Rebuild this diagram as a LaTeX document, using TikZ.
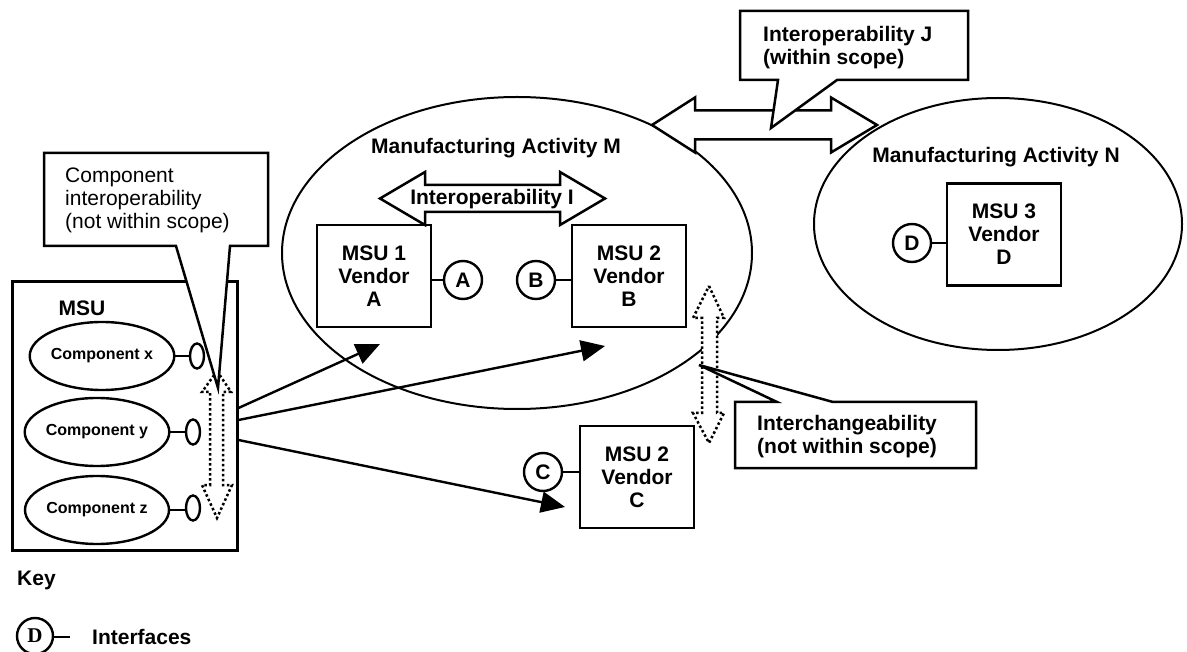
\documentclass[tikz,border=0pt]{standalone}
\usepackage{fontspec}
\setmainfont{Liberation Sans}
\newfontfamily\keyfont{Liberation Serif}
\usetikzlibrary{arrows.meta,shapes.geometric}
\begin{document}
\begin{tikzpicture}[x=1pt,y=-1pt,
  boldtext/.style={font=\fontsize{21}{23}\selectfont\bfseries},
  regulartext/.style={font=\fontsize{21}{23}\selectfont},
  comptext/.style={font=\fontsize{16}{18}\selectfont\bfseries},
  activity/.style={ellipse, draw, line width=2pt, inner sep=0pt},
  msubox/.style={draw, line width=2.8pt, minimum width=114pt, minimum height=102pt, inner sep=0pt, align=center, boldtext},
  iface/.style={circle, draw, line width=2.4pt, minimum size=38pt, inner sep=0pt, boldtext},
  component/.style={ellipse, draw, line width=2.4pt, minimum width=144pt, minimum height=68pt, inner sep=0pt, comptext},
  portshape/.style={ellipse, draw, line width=2.4pt, minimum width=14pt, minimum height=25pt, inner sep=0pt},
  blockarrow/.style={draw, fill=white, line width=2.5pt, line join=miter},
  dottedarrow/.style={draw, fill=white, line width=2.5pt, dash pattern=on 2.5pt off 2.5pt, line join=miter},
  calloutbox/.style={draw, fill=white, line width=2.5pt, line join=miter},
  conn/.style={line width=2.4pt, -{Triangle[length=24pt,width=21pt]}},
  wire/.style={line width=2.4pt}
]
\useasboundingbox (0,0) rectangle (1187,652);

% manufacturing activities
\node[activity, minimum width=470pt, minimum height=312pt] (actM) at (517,253) {};
\node[activity, minimum width=368pt, minimum height=252pt] (actN) at (998,224) {};
\node[boldtext] (titleM) at (496,148) {Manufacturing Activity M};
\node[boldtext] (titleN) at (996,157) {Manufacturing Activity N};

% interoperability J between the activities
\draw[blockarrow] (652,125) -- (695,97.5) -- (695,110.5) -- (831,110.5) -- (831,97.5)
  -- (877,125) -- (831,152.5) -- (831,139.5) -- (695,139.5) -- (695,152.5) -- cycle;
\draw[calloutbox] (740,11) -- (968,11) -- (968,80) -- (837,80) -- (771,128) -- (778,80) -- (740,80) -- cycle;
\node[boldtext, anchor=west, align=left, inner sep=0pt] (labelJ) at (763,48)
  {Interoperability J\\(within scope)};

% interoperability I inside activity M
\draw[blockarrow] (380,198.5) -- (425,172) -- (425,185) -- (560,185) -- (560,172)
  -- (605,198.5) -- (560,225) -- (560,212) -- (425,212) -- (425,225) -- cycle;
\node[boldtext, inner sep=0pt] (labelI) at (492,199) {Interoperability I};

% manufacturing software units
\node[msubox] (msu1) at (374,276) {MSU 1\\Vendor\\A};
\node[msubox] (msu2) at (629,276) {MSU 2\\Vendor\\B};
\node[msubox] (msu2c) at (637,477) {MSU 2\\Vendor\\C};
\node[msubox] (msu3) at (1004,234.5) {MSU 3\\Vendor\\D};

\node[iface] (ifA) at (463,280) {A};
\node[iface] (ifB) at (536,280) {B};
\node[iface] (ifC) at (543,472) {C};
\node[iface] (ifD) at (912,243) {D};
\draw[wire] (ifA.west) -- (ifA.west -| msu1.east);
\draw[wire] (ifB.east) -- (ifB.east -| msu2.west);
\draw[wire] (ifC.east) -- (ifC.east -| msu2c.west);
\draw[wire] (ifD.east) -- (ifD.east -| msu3.west);

% interchangeability
\draw[dottedarrow] (709,286) -- (724,318) -- (717,318) -- (717,413) -- (724,413) -- (709,443)
  -- (693,413) -- (702,413) -- (702,318) -- (693,318) -- cycle;
\draw[calloutbox] (735,402) -- (777,402) -- (699,365) -- (833,402) -- (976,402) -- (976,468) -- (735,468) -- cycle;
\node[boldtext, anchor=west, align=left, inner sep=0pt] (labelX) at (757,437)
  {Interchangeability\\(not within scope)};

% MSU with its components
\node[draw, line width=3pt, minimum width=225pt, minimum height=268pt, inner sep=0pt] (msu) at (124.5,416) {};
\node[boldtext] (msutitle) at (82,308) {MSU};
\node[component] (cx) at (102,356) {Component x};
\node[component] (cy) at (97,432) {Component y};
\node[component] (cz) at (97,510) {Component z};
\node[portshape] (px) at (197,356) {};
\node[portshape] (py) at (193,432) {};
\node[portshape] (pz) at (193,508) {};
\draw[wire] (cx.east) -- (px.west);
\draw[wire] (cy.east) -- (py.west);
\draw[wire] (cz.east) -- (pz.west |- cz.east);

\draw[dottedarrow] (217,371) -- (231,392) -- (223,392) -- (223,485) -- (232,485) -- (217,518)
  -- (202,485) -- (210,485) -- (210,392) -- (202,392) -- cycle;
\draw[calloutbox] (44,153) -- (268,153) -- (268,246) -- (230,246) -- (218,388) -- (176,246) -- (44,246) -- cycle;
\node[regulartext, anchor=west, align=left, inner sep=0pt] (labelC) at (65,200)
  {Component\\interoperability\\(not within scope)};

% deployment of the MSU
\coordinate (t1) at (380,344);
\coordinate (t2) at (605,346);
\coordinate (t3) at (565,507);
\draw[conn] (msu.east |- 0,408) -- (t1);
\draw[conn] (msu.east |- 0,420) -- (t2);
\draw[conn] (msu.east |- 0,440) -- (t3);

% key
\node[boldtext, anchor=west, inner sep=0pt] (key) at (17,580) {Key};
\node[circle, draw, line width=2.4pt, minimum size=36pt, inner sep=0pt,
  font=\fontsize{21}{23}\selectfont\keyfont\bfseries] (keyD) at (35,636) {D};
\coordinate (keyend) at (70,637);
\draw[wire] (keyD.east |- keyend) -- (keyend);
\node[boldtext, anchor=west, inner sep=0pt] (keylabel) at (92,637) {Interfaces};
\end{tikzpicture}
\end{document}
